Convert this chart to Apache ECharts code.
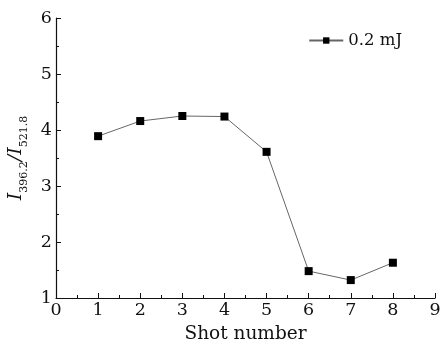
<!DOCTYPE html>
<html><head><meta charset="utf-8">
<script src="https://cdn.jsdelivr.net/npm/echarts@6/dist/echarts.min.js"></script>
<style>html,body{margin:0;padding:0;background:#fff}#c{width:443px;height:344px}</style>
</head><body><div id="c"></div>
<script>
const shots = [1, 2, 3, 4, 5, 6, 7, 8];
const ratio = [3.89, 4.16, 4.25, 4.24, 3.61, 1.48, 1.32, 1.63];
const seriesName = '0.2 mJ';
const xLabel = 'Shot number';

const chart = echarts.init(document.getElementById('c'));
const font = '"DejaVu Serif", "Liberation Serif", serif';
chart.setOption({
  animation: false,
  grid: {left: 56, right: 8, top: 18, bottom: 46, outerBoundsMode: 'none', containLabel: false},
  legend: {
    data: [seriesName], right: 36, top: 27, itemWidth: 34, itemHeight: 8,
    textStyle: {fontFamily: font, fontSize: 16.5, color: '#111'}, itemGap: 4
  },
  xAxis: {
    type: 'value', min: 0, max: 9, interval: 1,
    name: xLabel, nameLocation: 'middle', nameGap: 27,
    nameTextStyle: {fontFamily: font, fontSize: 18.5, color: '#111'},
    axisLine: {lineStyle: {color: '#111', width: 1.2}},
    axisTick: {inside: true, length: 5, lineStyle: {color: '#111'}},
    minorTick: {show: true, splitNumber: 2, length: 3, lineStyle: {color: '#111'}},
    axisLabel: {fontFamily: font, fontSize: 17.5, color: '#111', margin: 3},
    splitLine: {show: false}
  },
  yAxis: {
    type: 'value', min: 1, max: 6, interval: 1,
    name: '{i|I}{s|396.2}{i|/I}{s|521.8}', nameLocation: 'middle', nameGap: 22, nameRotate: 90,
    nameTextStyle: {
      rich: {
        i: {fontFamily: font, fontSize: 19, fontStyle: 'italic', color: '#111', verticalAlign: 'bottom'},
        s: {fontFamily: font, fontSize: 11, color: '#111', verticalAlign: 'bottom', padding: [0, 0, -4, 0]}
      }
    },
    axisLine: {show: true, lineStyle: {color: '#111', width: 1.2}},
    axisTick: {show: true, inside: true, length: 5, lineStyle: {color: '#111'}},
    minorTick: {show: true, splitNumber: 2, length: 3, lineStyle: {color: '#111'}},
    axisLabel: {fontFamily: font, fontSize: 17.5, color: '#111', margin: 4},
    splitLine: {show: false}
  },
  series: [{
    name: seriesName, type: 'line',
    data: shots.map((s, i) => [s, ratio[i]]),
    symbol: 'rect', symbolSize: 8,
    itemStyle: {color: '#000'},
    lineStyle: {color: '#666', width: 1}
  }]
});
</script></body></html>
